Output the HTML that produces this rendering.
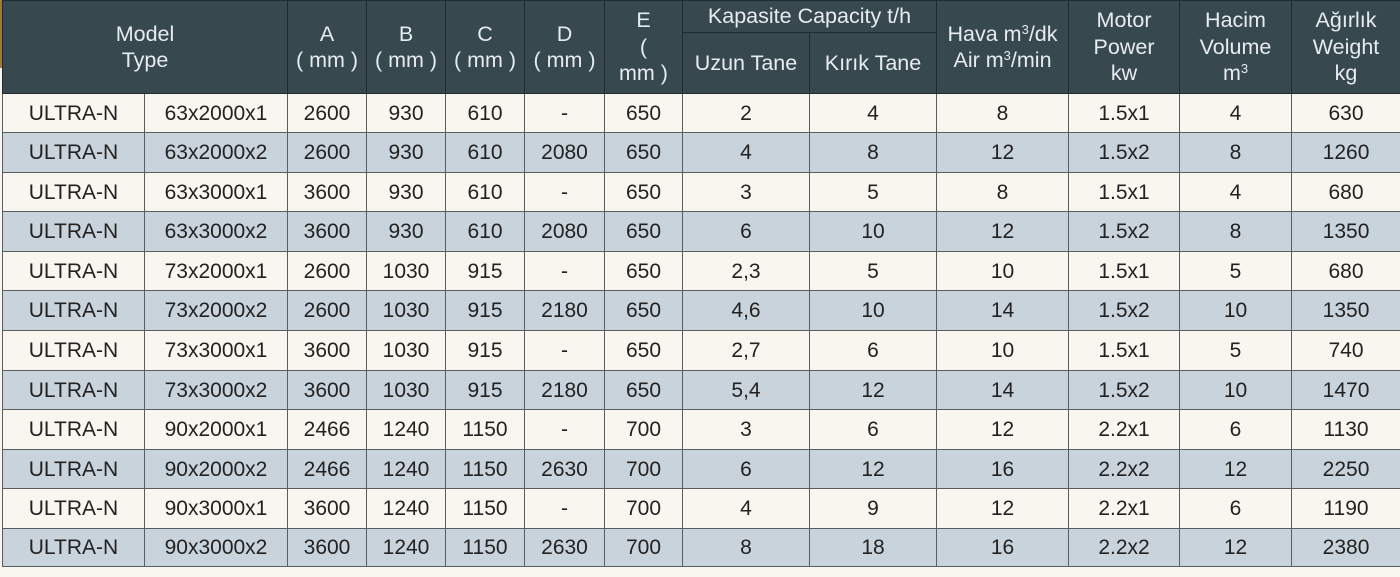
<!DOCTYPE html>
<html><head><meta charset="utf-8">
<style>
html,body{margin:0;padding:0;}
body{width:1400px;height:577px;background:#f9f6f0;position:relative;overflow:hidden;font-family:"Liberation Sans",sans-serif;}
.gold{position:absolute;left:0;top:0;width:2px;height:68px;background:#a07a3a;}
table{position:absolute;left:2px;top:0;width:1398px;border-collapse:collapse;table-layout:fixed;}
td,th{padding:0;text-align:center;vertical-align:middle;font-weight:normal;white-space:nowrap;}
th{background:#37494f;color:#e6ecef;font-size:21.5px;line-height:26.5px;border:1px solid #1f2b30;}
td{font-size:21px;color:#222;border:1px solid #5a5d5f;padding-top:1px;}
tr.c td{background:#f9f6f0;}
tr.b td{background:#c8d3db;}
sup{font-size:13px;vertical-align:7px;line-height:0;}
</style></head><body>
<div class="gold"></div>
<table>
<colgroup>
<col style="width:142px"><col style="width:143px"><col style="width:79px"><col style="width:79px"><col style="width:79px"><col style="width:80px"><col style="width:78px"><col style="width:127px"><col style="width:127px"><col style="width:132px"><col style="width:111px"><col style="width:112px"><col style="width:109px">
</colgroup>
<tr style="height:32px">
<th colspan="2" rowspan="2">Model<br>Type</th>
<th rowspan="2">A<br>( mm )</th>
<th rowspan="2">B<br>( mm )</th>
<th rowspan="2">C<br>( mm )</th>
<th rowspan="2">D<br>( mm )</th>
<th rowspan="2">E<br>(<br>mm )</th>
<th colspan="2">Kapasite Capacity t/h</th>
<th rowspan="2">Hava m<sup>3</sup>/dk<br>Air m<sup>3</sup>/min</th>
<th rowspan="2">Motor<br>Power<br>kw</th>
<th rowspan="2">Hacim<br>Volume<br>m<sup>3</sup></th>
<th rowspan="2">Ağırlık<br>Weight<br>kg</th>
</tr>
<tr style="height:61px"><th>Uzun Tane</th><th>Kırık Tane</th></tr>
<tr class="c" style="height:39px"><td>ULTRA-N</td><td>63x2000x1</td><td>2600</td><td>930</td><td>610</td><td>-</td><td>650</td><td>2</td><td>4</td><td>8</td><td>1.5x1</td><td>4</td><td>630</td></tr>
<tr class="b" style="height:40px"><td>ULTRA-N</td><td>63x2000x2</td><td>2600</td><td>930</td><td>610</td><td>2080</td><td>650</td><td>4</td><td>8</td><td>12</td><td>1.5x2</td><td>8</td><td>1260</td></tr>
<tr class="c" style="height:39px"><td>ULTRA-N</td><td>63x3000x1</td><td>3600</td><td>930</td><td>610</td><td>-</td><td>650</td><td>3</td><td>5</td><td>8</td><td>1.5x1</td><td>4</td><td>680</td></tr>
<tr class="b" style="height:40px"><td>ULTRA-N</td><td>63x3000x2</td><td>3600</td><td>930</td><td>610</td><td>2080</td><td>650</td><td>6</td><td>10</td><td>12</td><td>1.5x2</td><td>8</td><td>1350</td></tr>
<tr class="c" style="height:39px"><td>ULTRA-N</td><td>73x2000x1</td><td>2600</td><td>1030</td><td>915</td><td>-</td><td>650</td><td>2,3</td><td>5</td><td>10</td><td>1.5x1</td><td>5</td><td>680</td></tr>
<tr class="b" style="height:40px"><td>ULTRA-N</td><td>73x2000x2</td><td>2600</td><td>1030</td><td>915</td><td>2180</td><td>650</td><td>4,6</td><td>10</td><td>14</td><td>1.5x2</td><td>10</td><td>1350</td></tr>
<tr class="c" style="height:40px"><td>ULTRA-N</td><td>73x3000x1</td><td>3600</td><td>1030</td><td>915</td><td>-</td><td>650</td><td>2,7</td><td>6</td><td>10</td><td>1.5x1</td><td>5</td><td>740</td></tr>
<tr class="b" style="height:39px"><td>ULTRA-N</td><td>73x3000x2</td><td>3600</td><td>1030</td><td>915</td><td>2180</td><td>650</td><td>5,4</td><td>12</td><td>14</td><td>1.5x2</td><td>10</td><td>1470</td></tr>
<tr class="c" style="height:40px"><td>ULTRA-N</td><td>90x2000x1</td><td>2466</td><td>1240</td><td>1150</td><td>-</td><td>700</td><td>3</td><td>6</td><td>12</td><td>2.2x1</td><td>6</td><td>1130</td></tr>
<tr class="b" style="height:39px"><td>ULTRA-N</td><td>90x2000x2</td><td>2466</td><td>1240</td><td>1150</td><td>2630</td><td>700</td><td>6</td><td>12</td><td>16</td><td>2.2x2</td><td>12</td><td>2250</td></tr>
<tr class="c" style="height:40px"><td>ULTRA-N</td><td>90x3000x1</td><td>3600</td><td>1240</td><td>1150</td><td>-</td><td>700</td><td>4</td><td>9</td><td>12</td><td>2.2x1</td><td>6</td><td>1190</td></tr>
<tr class="b" style="height:38px"><td>ULTRA-N</td><td>90x3000x2</td><td>3600</td><td>1240</td><td>1150</td><td>2630</td><td>700</td><td>8</td><td>18</td><td>16</td><td>2.2x2</td><td>12</td><td>2380</td></tr>
</table>
</body></html>
